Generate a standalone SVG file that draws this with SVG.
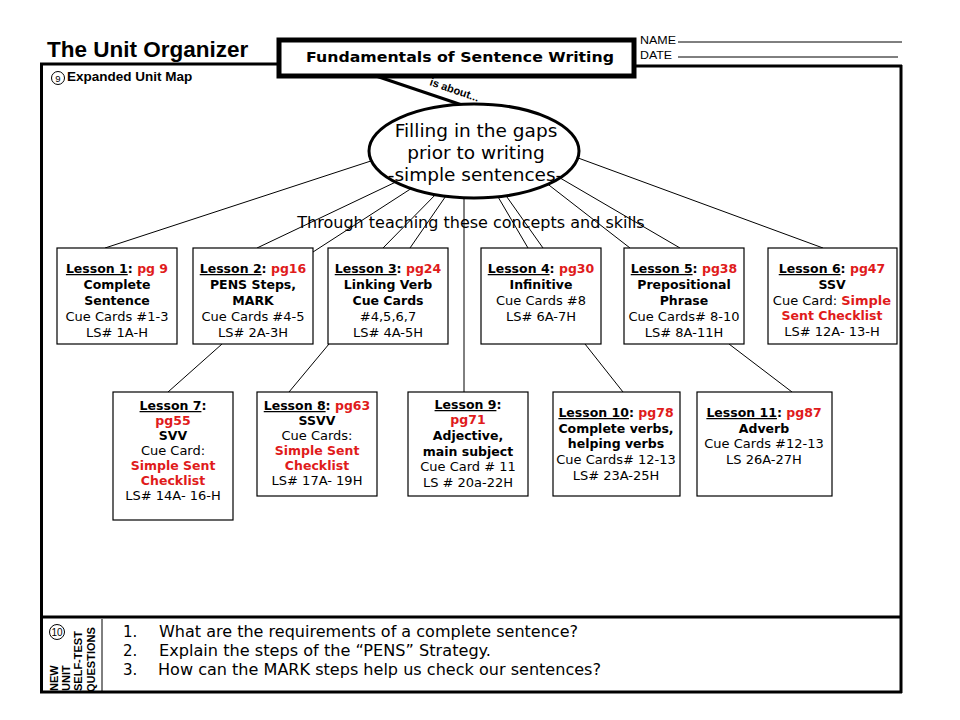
<svg xmlns="http://www.w3.org/2000/svg" width="960" height="720" viewBox="0 0 960 720">
<style>
.frame{fill:none;stroke:#000;stroke-width:3}
.box{fill:#fff;stroke:#000;stroke-width:1.2}
#connectors line{stroke:#000;stroke-width:1}
#connectors line.thick{stroke-width:3}
.t{font-family:"DejaVu Sans",Verdana,sans-serif;font-size:12.5px;text-anchor:middle;fill:#000}
.n{font-size:13px}
.big{font-size:18.5px}
.mid{font-size:16px}
.b{font-weight:bold}
.r{fill:#e01b1b;font-weight:bold}
.u{text-decoration:underline}
.a{font-family:"Liberation Sans",Arial,sans-serif;fill:#000}
.q{font-family:"DejaVu Sans",Verdana,sans-serif;font-size:15px;fill:#000}
.v{font-family:"Liberation Sans",Arial,sans-serif;font-size:11px;font-weight:bold;fill:#000}
</style>
<rect width="960" height="720" fill="#fff"/>

<g id="frame">
<line x1="40" y1="64" x2="279" y2="64" class="frame"/>
<line x1="634" y1="66" x2="902" y2="66" class="frame"/>
<line x1="41.5" y1="63" x2="41.5" y2="693" class="frame"/>
<line x1="901" y1="65" x2="901" y2="693" class="frame"/>
<line x1="40" y1="692" x2="902" y2="692" class="frame"/>
<line x1="40" y1="617" x2="902" y2="617" class="frame"/>
<line x1="102" y1="619" x2="102" y2="691" stroke="#000" stroke-width="1"/>
</g>

<g id="header">
<text class="a" x="47" y="57" font-size="22.5" font-weight="bold">The Unit Organizer</text>
<text class="a" x="640" y="44" font-size="10.5" textLength="36" lengthAdjust="spacingAndGlyphs">NAME</text>
<line x1="678" y1="42" x2="902" y2="42" stroke="#000" stroke-width="1"/>
<text class="a" x="640" y="59" font-size="10.5" textLength="32" lengthAdjust="spacingAndGlyphs">DATE</text>
<line x1="678" y1="57" x2="898" y2="57" stroke="#000" stroke-width="1"/>
<circle cx="58" cy="78" r="6.5" fill="none" stroke="#000" stroke-width="1"/>
<text class="a" x="58" y="81.5" font-size="9.5" text-anchor="middle">9</text>
<text class="a" x="67" y="81" font-size="13.5" font-weight="bold">Expanded Unit Map</text>
</g>

<g id="title">
<rect x="279" y="40" width="355" height="36" fill="#fff" stroke="#000" stroke-width="5"/>
<text x="460" y="62" font-family="'DejaVu Sans',Verdana,sans-serif" font-size="14.5" font-weight="bold" text-anchor="middle" textLength="308" lengthAdjust="spacingAndGlyphs">Fundamentals of Sentence Writing</text>
</g>

<g id="connectors">
<line x1="380" y1="158" x2="105" y2="248"/>
<line x1="400" y1="180" x2="257" y2="248"/>
<line x1="412" y1="188" x2="313" y2="252"/>
<line x1="440" y1="190" x2="383" y2="248"/>
<line x1="450" y1="190" x2="410" y2="248"/>
<line x1="464" y1="190" x2="464" y2="392"/>
<line x1="494" y1="190" x2="528" y2="248"/>
<line x1="502" y1="190" x2="543" y2="248"/>
<line x1="545" y1="182" x2="630" y2="248"/>
<line x1="555" y1="175" x2="680" y2="248"/>
<line x1="570" y1="155" x2="823" y2="248"/>
<line x1="222" y1="344" x2="168" y2="392"/>
<line x1="329" y1="344" x2="289" y2="392"/>
<line x1="585" y1="344" x2="623" y2="392"/>
<line x1="729" y1="344" x2="792" y2="392"/>
<line class="thick" x1="376" y1="76" x2="462" y2="105"/>
</g>
<text class="a" transform="translate(429,85) rotate(19)" font-size="11" font-weight="bold">is about...</text>

<g id="topic">
<ellipse cx="474" cy="151" rx="105" ry="47" fill="#fff" stroke="#000" stroke-width="3"/>
<text class="t big" x="476" y="137">Filling in the gaps</text>
<text class="t big" x="476" y="159">prior to writing</text>
<text class="t big" x="475" y="181">-simple sentences-</text>
</g>

<text class="t mid" x="471" y="228">Through teaching these concepts and skills</text>

<g id="lesson1">
<rect class="box" x="57" y="248" width="120" height="96"/>
<text class="t b" x="117" y="273"><tspan class="u">Lesson 1</tspan>: <tspan class="r">pg 9</tspan></text>
<text class="t b" x="117" y="289">Complete</text>
<text class="t b" x="117" y="305">Sentence</text>
<text class="t n" x="117" y="321">Cue Cards #1-3</text>
<text class="t n" x="117" y="337">LS# 1A-H</text>
</g>
<g id="lesson2">
<rect class="box" x="193" y="248" width="120" height="96"/>
<text class="t b" x="253" y="273"><tspan class="u">Lesson 2</tspan>: <tspan class="r">pg16</tspan></text>
<text class="t b" x="253" y="289">PENS Steps,</text>
<text class="t b" x="253" y="305">MARK</text>
<text class="t n" x="253" y="321">Cue Cards #4-5</text>
<text class="t n" x="253" y="337">LS# 2A-3H</text>
</g>
<g id="lesson3">
<rect class="box" x="328" y="248" width="120" height="96"/>
<text class="t b" x="388" y="273"><tspan class="u">Lesson 3</tspan>: <tspan class="r">pg24</tspan></text>
<text class="t b" x="388" y="289">Linking Verb</text>
<text class="t b" x="388" y="305">Cue Cards</text>
<text class="t n" x="388" y="321">#4,5,6,7</text>
<text class="t n" x="388" y="337">LS# 4A-5H</text>
</g>
<g id="lesson4">
<rect class="box" x="481" y="248" width="120" height="96"/>
<text class="t b" x="541" y="273"><tspan class="u">Lesson 4</tspan>: <tspan class="r">pg30</tspan></text>
<text class="t b" x="541" y="289">Infinitive</text>
<text class="t n" x="541" y="305">Cue Cards #8</text>
<text class="t n" x="541" y="321">LS# 6A-7H</text>
</g>
<g id="lesson5">
<rect class="box" x="624" y="248" width="120" height="96"/>
<text class="t b" x="684" y="273"><tspan class="u">Lesson 5</tspan>: <tspan class="r">pg38</tspan></text>
<text class="t b" x="684" y="289">Prepositional</text>
<text class="t b" x="684" y="305">Phrase</text>
<text class="t n" x="684" y="321">Cue Cards# 8-10</text>
<text class="t n" x="684" y="337">LS# 8A-11H</text>
</g>
<g id="lesson6">
<rect class="box" x="768" y="248" width="129" height="96"/>
<text class="t b" x="832" y="273"><tspan class="u">Lesson 6</tspan>: <tspan class="r">pg47</tspan></text>
<text class="t b" x="832" y="289">SSV</text>
<text class="t n" x="832" y="305">Cue Card: <tspan class="r">Simple</tspan></text>
<text class="t r" x="832" y="320">Sent Checklist</text>
<text class="t n" x="832" y="336">LS# 12A- 13-H</text>
</g>

<g id="lesson7">
<rect class="box" x="113" y="392" width="120" height="128"/>
<text class="t b" x="173" y="410"><tspan class="u">Lesson 7</tspan>:</text>
<text class="t r" x="173" y="425">pg55</text>
<text class="t b" x="173" y="440">SVV</text>
<text class="t n" x="173" y="455">Cue Card:</text>
<text class="t r" x="173" y="470">Simple Sent</text>
<text class="t r" x="173" y="485">Checklist</text>
<text class="t n" x="173" y="500">LS# 14A- 16-H</text>
</g>
<g id="lesson8">
<rect class="box" x="257" y="392" width="120" height="104"/>
<text class="t b" x="317" y="410"><tspan class="u">Lesson 8</tspan>: <tspan class="r">pg63</tspan></text>
<text class="t b" x="317" y="425">SSVV</text>
<text class="t n" x="317" y="440">Cue Cards:</text>
<text class="t r" x="317" y="455">Simple Sent</text>
<text class="t r" x="317" y="470">Checklist</text>
<text class="t n" x="317" y="485">LS# 17A- 19H</text>
</g>
<g id="lesson9">
<rect class="box" x="408" y="392" width="120" height="104"/>
<text class="t b" x="468" y="409"><tspan class="u">Lesson 9</tspan>:</text>
<text class="t r" x="468" y="424">pg71</text>
<text class="t b" x="468" y="440">Adjective,</text>
<text class="t b" x="468" y="456">main subject</text>
<text class="t n" x="468" y="471">Cue Card # 11</text>
<text class="t n" x="468" y="487">LS # 20a-22H</text>
</g>
<g id="lesson10">
<rect class="box" x="553" y="392" width="127" height="104"/>
<text class="t b" x="616" y="417"><tspan class="u">Lesson 10</tspan>: <tspan class="r">pg78</tspan></text>
<text class="t b" x="616" y="433">Complete verbs,</text>
<text class="t b" x="616" y="448">helping verbs</text>
<text class="t n" x="616" y="464">Cue Cards# 12-13</text>
<text class="t n" x="616" y="480">LS# 23A-25H</text>
</g>
<g id="lesson11">
<rect class="box" x="697" y="392" width="135" height="104"/>
<text class="t b" x="764" y="417"><tspan class="u">Lesson 11</tspan>: <tspan class="r">pg87</tspan></text>
<text class="t b" x="764" y="433">Adverb</text>
<text class="t n" x="764" y="448">Cue Cards #12-13</text>
<text class="t n" x="764" y="464">LS 26A-27H</text>
</g>

<g id="questions">
<circle cx="57" cy="632" r="7.5" fill="none" stroke="#000" stroke-width="1"/>
<text class="a" x="57" y="635.5" font-size="10" text-anchor="middle">10</text>
<text class="v" transform="translate(58,691) rotate(-90)">NEW</text>
<text class="v" transform="translate(70,691) rotate(-90)">UNIT</text>
<text class="v" transform="translate(82,691) rotate(-90)">SELF-TEST</text>
<text class="v" transform="translate(95,692) rotate(-90)">QUESTIONS</text>
<text class="q" x="123" y="637">1.</text>
<text class="q" x="159" y="637" textLength="419" lengthAdjust="spacingAndGlyphs">What are the requirements of a complete sentence?</text>
<text class="q" x="123" y="656">2.</text>
<text class="q" x="159" y="656" textLength="332" lengthAdjust="spacingAndGlyphs">Explain the steps of the “PENS” Strategy.</text>
<text class="q" x="123" y="675">3.</text>
<text class="q" x="158" y="675" textLength="443" lengthAdjust="spacingAndGlyphs">How can the MARK steps help us check our sentences?</text>
</g>
</svg>
